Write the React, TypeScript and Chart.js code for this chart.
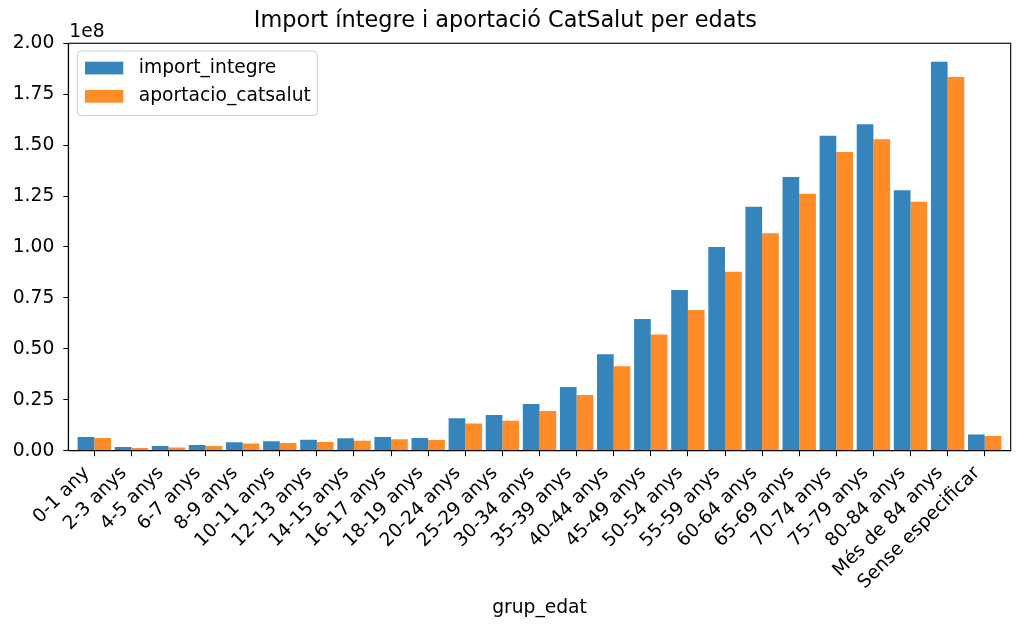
import React, { useEffect, useRef } from "react";
import { Chart, registerables } from "chart.js";

Chart.register(...registerables);

const categories = [
  "0-1 any", "2-3 anys", "4-5 anys", "6-7 anys", "8-9 anys", "10-11 anys",
  "12-13 anys", "14-15 anys", "16-17 anys", "18-19 anys", "20-24 anys",
  "25-29 anys", "30-34 anys", "35-39 anys", "40-44 anys", "45-49 anys",
  "50-54 anys", "55-59 anys", "60-64 anys", "65-69 anys", "70-74 anys",
  "75-79 anys", "80-84 anys", "Més de 84 anys", "Sense especificar",
];

const importIntegre = [
  6.7e6, 1.8e6, 2.3e6, 2.8e6, 4.1e6, 4.6e6, 5.4e6, 6.1e6, 6.7e6, 6.2e6,
  15.9e6, 17.5e6, 22.9e6, 31.3e6, 47.3e6, 64.7e6, 78.9e6, 100.0e6,
  119.8e6, 134.3e6, 154.6e6, 160.3e6, 127.9e6, 190.9e6, 8.0e6,
];

const aportacioCatsalut = [
  6.2e6, 1.3e6, 1.6e6, 2.3e6, 3.5e6, 3.8e6, 4.3e6, 4.9e6, 5.6e6, 5.3e6,
  13.3e6, 14.7e6, 19.5e6, 27.4e6, 41.4e6, 57.0e6, 69.1e6, 87.8e6,
  106.8e6, 126.1e6, 146.6e6, 152.9e6, 122.2e6, 183.5e6, 7.2e6,
];

const seriesNames = ["import_integre", "aportacio_catsalut"];
const seriesColors = ["#3585bc", "#ff8c26"];
const yTicks = [0, 0.25e8, 0.5e8, 0.75e8, 1.0e8, 1.25e8, 1.5e8, 1.75e8, 2.0e8];

const FONT = "'DejaVu Sans', sans-serif";
const FS = 18.7;

const framePlugin = {
  id: "frame",
  afterDraw(chart: any) {
    const { ctx, chartArea } = chart;
    ctx.save();
    ctx.strokeStyle = "#000";
    ctx.lineWidth = 1.1;
    ctx.strokeRect(chartArea.left, chartArea.top, chartArea.right - chartArea.left, chartArea.bottom - chartArea.top);
    // rotated category labels (matplotlib-style: rotated bbox right edge at tick)
    const xs = chart.scales.x;
    ctx.fillStyle = "#000";
    ctx.font = `${FS}px ${FONT}`;
    ctx.textAlign = "right";
    ctx.textBaseline = "middle";
    categories.forEach((c, i) => {
      const px = xs.getPixelForValue(i);
      ctx.save();
      ctx.translate(px - 7.7, chartArea.bottom + 19.5);
      ctx.rotate(-Math.PI / 4);
      ctx.fillText(c, 0, 0);
      ctx.restore();
    });
    // offset text
    ctx.font = `${FS}px ${FONT}`;
    ctx.textAlign = "left";
    ctx.textBaseline = "alphabetic";
    ctx.fillText("1e8", chartArea.left + 1, chartArea.top - 6.5);
    // legend
    const lx = chartArea.left + 9;
    const ly = chartArea.top + 7.7;
    const lw = 240;
    const lh = 64.5;
    ctx.beginPath();
    (ctx as any).roundRect(lx, ly, lw, lh, 4);
    ctx.fillStyle = "rgba(255,255,255,0.8)";
    ctx.fill();
    ctx.strokeStyle = "#cccccc";
    ctx.lineWidth = 1;
    ctx.stroke();
    seriesNames.forEach((name, i) => {
      const cy = ly + 17 + i * 28.3;
      ctx.fillStyle = seriesColors[i];
      ctx.fillRect(lx + 7.7, cy - 6.3, 38.3, 12.7);
      ctx.fillStyle = "#000";
      ctx.font = `${FS}px ${FONT}`;
      ctx.textBaseline = "middle";
      ctx.fillText(name, lx + 61.5, cy);
    });
    ctx.restore();
  },
};

export default function App() {
  const ref = useRef<HTMLCanvasElement>(null);
  useEffect(() => {
    if (!ref.current) return;
    const chart = new Chart(ref.current, {
      type: "bar",
      data: {
        datasets: [importIntegre, aportacioCatsalut].map((vals, k) => ({
          label: seriesNames[k],
          data: vals.map((v, i) => ({ x: i, y: v })),
          backgroundColor: seriesColors[k],
          borderWidth: 0,
          categoryPercentage: 0.9,
          barPercentage: 1.0,
        })),
      },
      options: {
        animation: false,
        responsive: false,
        devicePixelRatio: 1,
        layout: { padding: { top: 0, right: 13.3, left: 0, bottom: 0 } },
        plugins: {
          legend: { display: false },
          tooltip: { enabled: false },
          title: {
            display: true,
            text: "Import íntegre i aportació CatSalut per edats",
            color: "#000",
            font: { family: FONT, size: 22.4, weight: "normal" },
            padding: { top: 8, bottom: 8.4 },
          },
        },
        scales: {
          x: {
            type: "linear",
            min: -0.7,
            max: 24.7,
            offset: false,
            afterFit(scale: any) { scale.height = 183.3; },
            grid: { offset: false, drawOnChartArea: false, drawTicks: true, tickLength: 5.5, tickColor: "#000", color: "#000" },
            border: { display: true, color: "#000", width: 1.1 },
            ticks: {
              display: false,
              stepSize: 1,
              includeBounds: false,
              autoSkip: false,
              maxRotation: 0,
              minRotation: 0,
              callback: (v: any) => categories[v as number] ?? "",
            },
            title: {
              display: true,
              text: "grup_edat",
              color: "#000",
              font: { family: FONT, size: FS },
              padding: { top: 0, bottom: 15 },
            },
          },
          y: {
            min: 0,
            max: 2.0e8,
            afterFit(scale: any) { scale.width = 68.3; },
            afterBuildTicks(scale: any) { scale.ticks = yTicks.map((v) => ({ value: v })); },
            grid: { drawOnChartArea: false, drawTicks: true, tickLength: 5, tickColor: "#000", color: "#000" },
            border: { display: true, color: "#000", width: 1.1 },
            ticks: {
              color: "#000",
              padding: 9,
              font: { family: FONT, size: FS },
              callback: (v: any) => (Number(v) / 1e8).toFixed(2),
            },
          },
        },
      },
      plugins: [framePlugin],
    } as any);
    return () => chart.destroy();
  }, []);
  return (
    <div style={{ position: "absolute", left: 0, top: 0, width: 1024, height: 634, background: "#fff" }}>
      <canvas ref={ref} width={1024} height={634} />
    </div>
  );
}
